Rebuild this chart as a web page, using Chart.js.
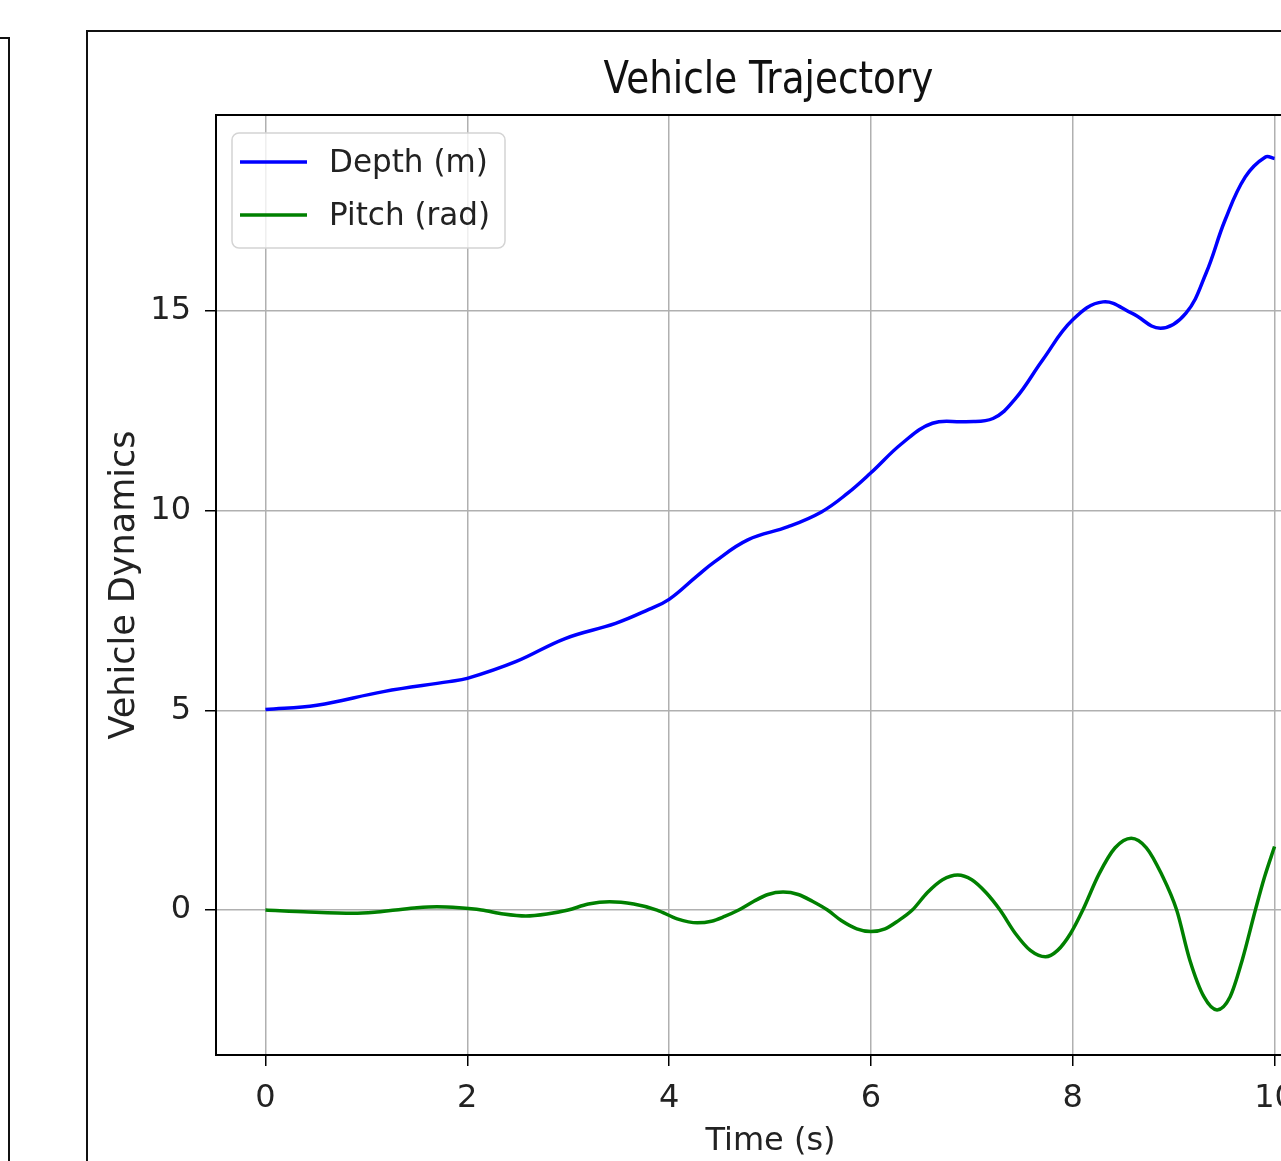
<!DOCTYPE html>
<html>
<head>
<meta charset="utf-8">
<script src="https://cdn.jsdelivr.net/npm/chart.js@4.4.0/dist/chart.umd.min.js"></script>
<style>
  html, body { margin: 0; padding: 0; background: #fff; overflow: hidden; width: 1281px; height: 1161px; }
  #prev { position: absolute; left: -10px; top: 37px; width: 16px; height: 2000px; border: 2px solid #111; }
  #frame { position: absolute; left: 86px; top: 30px; width: 2000px; height: 2000px; border: 2px solid #111; }
  #trajectory { position: absolute; left: 0; top: 0; }
</style>
</head>
<body>
<div id="prev"></div>
<div id="frame"></div>
<canvas id="trajectory" width="1340" height="1165"></canvas>
<script>
// textos
const chartTitle = 'Vehicle Trajectory';
const xLabel = 'Time (s)';
const yLabel = 'Vehicle Dynamics';
const xTicks = [0, 2, 4, 6, 8, 10];
const yTicks = [0, 5, 10, 15];

// Depth (m)
const depthTime = [0, 0.51, 1.17, 1.82, 2.0, 2.48, 2.97, 3.47, 3.8, 4.0, 4.27, 4.45, 4.78, 5.18, 5.51,
  5.77, 6.0, 6.31, 6.61, 6.94, 7.21, 7.43, 7.7, 8.0, 8.3, 8.59, 8.87, 9.12, 9.32, 9.51, 9.71, 9.91, 10.0];
const depthValue = [5.02, 5.13, 5.47, 5.72, 5.8, 6.22, 6.8, 7.18, 7.53, 7.78, 8.35, 8.72, 9.27, 9.6, 9.97,
  10.44, 10.95, 11.69, 12.19, 12.23, 12.31, 12.8, 13.77, 14.78, 15.23, 14.94, 14.57, 14.94, 15.94, 17.28, 18.36, 18.86, 18.82];

// Pitch (rad) (picos, vales, cruzamentos e pontos entre eles)
const pitchTime = [0, 0.43, 0.87, 1.08, 1.29, 1.5, 1.7, 1.92, 2.14, 2.36, 2.58, 2.79, 3.0, 3.2, 3.41, 3.65,
  3.88, 4.08, 4.28, 4.42, 4.55, 4.69, 4.84, 4.98, 5.13, 5.28, 5.42, 5.57, 5.71, 5.86, 6.0, 6.14, 6.27,
  6.41, 6.56, 6.71, 6.86, 7.0, 7.14, 7.28, 7.43, 7.58, 7.73, 7.85, 7.98, 8.1, 8.26, 8.42, 8.58,
  8.73, 8.88, 9.03, 9.16, 9.3, 9.43, 9.56, 9.68, 9.81, 9.9, 10.0];
const pitchValue = [0, -0.05, -0.08, -0.055, 0, 0.055, 0.08, 0.055, 0, -0.1, -0.15, -0.1, 0, 0.15, 0.21, 0.15,
  0, -0.22, -0.32, -0.28, -0.16, 0, 0.22, 0.39, 0.45, 0.39, 0.22, 0, -0.27, -0.47, -0.54, -0.47, -0.27,
  0, 0.44, 0.76, 0.88, 0.76, 0.44, 0, -0.58, -1.01, -1.17, -1.01, -0.58, 0, 0.9, 1.56, 1.8,
  1.56, 0.9, 0, -1.25, -2.17, -2.5, -2.17, -1.25, 0, 0.82, 1.59];

const toPoints = (xs, ys) => xs.map((x, i) => ({ x: x, y: ys[i] }));

// moldura do eixo (4 lados)
const axesBox = {
  id: 'axesBox',
  afterDatasetsDraw(chart) {
    const { ctx, chartArea } = chart;
    ctx.save();
    ctx.strokeStyle = '#000';
    ctx.lineWidth = 2;
    ctx.strokeRect(chartArea.left, chartArea.top, chartArea.right - chartArea.left, chartArea.bottom - chartArea.top);
    ctx.restore();
  }
};

// legenda dentro do gráfico, canto superior esquerdo
const legendBox = {
  id: 'legendBox',
  afterDraw(chart) {
    const { ctx, chartArea } = chart;
    const x = chartArea.left + 16, y = chartArea.top + 18;
    ctx.save();
    ctx.beginPath();
    ctx.roundRect(x, y, 273, 115, 7);
    ctx.fillStyle = 'rgba(255,255,255,0.8)';
    ctx.fill();
    ctx.strokeStyle = '#d4d4d4';
    ctx.lineWidth = 1.5;
    ctx.stroke();
    ctx.font = '32px "DejaVu Sans"';
    ctx.textBaseline = 'middle';
    chart.data.datasets.forEach((ds, i) => {
      const ly = y + 29 + i * 53;
      ctx.strokeStyle = ds.borderColor;
      ctx.lineWidth = 3.5;
      ctx.beginPath();
      ctx.moveTo(x + 8, ly);
      ctx.lineTo(x + 75, ly);
      ctx.stroke();
      ctx.fillStyle = '#222';
      ctx.save();
      ctx.translate(x + 97, ly + 2);
      ctx.scale(0.97, 1);
      ctx.fillText(ds.label, 0, 0);
      ctx.restore();
    });
    ctx.restore();
  }
};

// título estreito
const narrowTitle = {
  id: 'narrowTitle',
  afterDraw(chart) {
    const { ctx, chartArea } = chart;
    ctx.save();
    ctx.translate((chartArea.left + chartArea.right) / 2 - 2, chartArea.top - 22);
    ctx.scale(0.83, 1);
    ctx.font = '45px "DejaVu Sans"';
    ctx.textAlign = 'center';
    ctx.textBaseline = 'alphabetic';
    ctx.fillStyle = '#111';
    ctx.fillText(chartTitle, 0, 0);
    ctx.restore();
  }
};

const ctx = document.getElementById('trajectory').getContext('2d');
const trajectoryChart = new Chart(ctx, {
  type: 'line',
  data: {
    datasets: [
      {
        label: 'Depth (m)',
        data: toPoints(depthTime, depthValue),
        borderColor: '#0000ff',
        borderWidth: 3.5,
        pointRadius: 0,
        tension: 0.4,
        fill: false
      },
      {
        label: 'Pitch (rad)',
        data: toPoints(pitchTime, pitchValue),
        borderColor: '#008000',
        borderWidth: 3.5,
        pointRadius: 0,
        cubicInterpolationMode: 'monotone',
        fill: false
      }
    ]
  },
  options: {
    responsive: false,
    animation: false,
    layout: { padding: { left: 100, top: 115, right: 15, bottom: 0 } },
    plugins: {
      legend: { display: false },
      title: { display: false },
      tooltip: { enabled: false }
    },
    scales: {
      x: {
        type: 'linear',
        min: -0.49,
        max: 10.5,
        afterBuildTicks: (axis) => { axis.ticks = xTicks.map(v => ({ value: v })); },
        afterFit: (scale) => { scale.height = 110; },
        border: { display: false },
        grid: { color: '#b0b0b0', lineWidth: 1.5, tickColor: '#000', tickLength: 11, tickWidth: 1.5 },
        ticks: { color: '#222', padding: 13, maxRotation: 0, font: { family: 'DejaVu Sans', size: 32 } },
        title: { display: true, text: xLabel, color: '#222', font: { family: 'DejaVu Sans', size: 32 } }
      },
      y: {
        min: -3.63,
        max: 19.91,
        afterBuildTicks: (axis) => { axis.ticks = yTicks.map(v => ({ value: v })); },
        afterFit: (scale) => { scale.width = 116; },
        border: { display: false },
        grid: { color: '#b0b0b0', lineWidth: 1.5, tickColor: '#000', tickLength: 11, tickWidth: 1.5 },
        ticks: { color: '#222', padding: 14, font: { family: 'DejaVu Sans', size: 32 } },
        title: { display: true, text: yLabel, color: '#222', font: { family: 'DejaVu Sans', size: 35 } }
      }
    }
  },
  plugins: [axesBox, legendBox, narrowTitle]
});
</script>
</body>
</html>
